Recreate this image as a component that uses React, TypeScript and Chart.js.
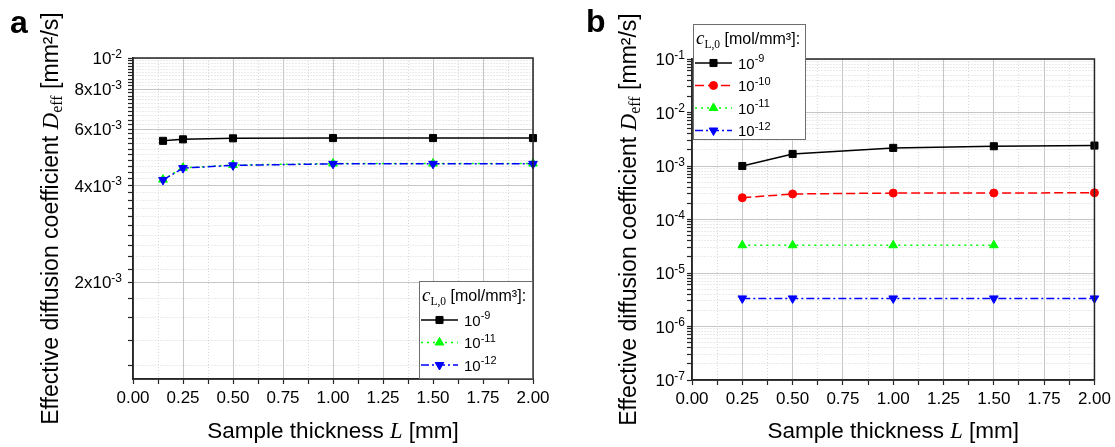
import React, { useEffect, useRef } from 'react';
import { Chart, registerables } from 'chart.js';

Chart.register(...registerables);

const SANS = '"Liberation Sans", Arial, sans-serif';
const SERIF = '"Liberation Serif", "Times New Roman", serif';

// ---------- shared x axis ----------
const xMajorTicks = [0, 0.25, 0.5, 0.75, 1.0, 1.25, 1.5, 1.75, 2.0];
const xTickLabels = ['0.00', '0.25', '0.50', '0.75', '1.00', '1.25', '1.50', '1.75', '2.00'];
const xMinorTicks = [0.125, 0.375, 0.625, 0.875, 1.125, 1.375, 1.625, 1.875];

// ---------- panel a data ----------
const thicknessA = [0.15, 0.25, 0.5, 1.0, 1.5, 2.0];
const deffA_c9 = [5.52e-3, 5.58e-3, 5.62e-3, 5.63e-3, 5.63e-3, 5.63e-3];
const deffA_c11 = [4.18e-3, 4.55e-3, 4.64e-3, 4.69e-3, 4.69e-3, 4.69e-3];
const deffA_c12 = [4.17e-3, 4.54e-3, 4.63e-3, 4.68e-3, 4.68e-3, 4.68e-3];
const yTicksA = [2e-3, 4e-3, 6e-3, 8e-3, 1e-2];
const yTickLabelsA = ['2x10^-3', '4x10^-3', '6x10^-3', '8x10^-3', '10^-2'];
const yMinorLowA = [1.1e-3, 1.32e-3, 1.55e-3, 1.78e-3];
const legendLabelsA = ['10^-9', '10^-11', '10^-12'];

// ---------- panel b data ----------
const thicknessB = [0.25, 0.5, 1.0, 1.5, 2.0];
const thicknessB11 = [0.25, 0.5, 1.0, 1.5];
const deffB_c9 = [1.0e-3, 1.68e-3, 2.18e-3, 2.34e-3, 2.41e-3];
const deffB_c10 = [2.55e-4, 3.0e-4, 3.12e-4, 3.13e-4, 3.16e-4];
const deffB_c11 = [3.3e-5, 3.3e-5, 3.3e-5, 3.3e-5];
const deffB_c12 = [3.35e-6, 3.35e-6, 3.35e-6, 3.35e-6, 3.35e-6];
const yTicksB = [1e-7, 1e-6, 1e-5, 1e-4, 1e-3, 1e-2, 1e-1];
const yTickLabelsB = ['10^-7', '10^-6', '10^-5', '10^-4', '10^-3', '10^-2', '10^-1'];
const legendLabelsB = ['10^-9', '10^-10', '10^-11', '10^-12'];

// minor tick helpers (axis decoration only)
function linearMinors(from: number, to: number, step: number, majors: number[]) {
  const out: number[] = [];
  for (let v = from; v <= to + step / 2; v += step) {
    const r = Math.round(v * 1e6) / 1e6;
    if (!majors.some((m) => Math.abs(m - r) < step / 10)) out.push(r);
  }
  return out;
}
function logMinors(majors: number[]) {
  const out: number[] = [];
  for (let i = 0; i < majors.length - 1; i++) {
    for (let k = 2; k <= 9; k++) out.push(majors[i] * k);
  }
  return out;
}
const yMinorA = [...yMinorLowA, ...linearMinors(2.2e-3, 9.8e-3, 0.2e-3, yTicksA)];
const yMinorB = logMinors(yTicksB);

const MAJOR_GRID = '#c6c6c6';
const MINOR_GRID = '#d6d6d6';
const AXIS = '#262626';

type Seg = { t: string; font: string; dy: number };

function segWidth(ctx: CanvasRenderingContext2D, segs: Seg[]) {
  let w = 0;
  for (const s of segs) {
    ctx.font = s.font;
    w += ctx.measureText(s.t).width;
  }
  return w;
}
function drawSegs(ctx: CanvasRenderingContext2D, segs: Seg[], x: number, y: number, align: string) {
  const w = segWidth(ctx, segs);
  let cx = align === 'left' ? x : align === 'center' ? x - w / 2 : x - w;
  ctx.fillStyle = '#000';
  ctx.textAlign = 'left';
  ctx.textBaseline = 'alphabetic';
  for (const s of segs) {
    ctx.font = s.font;
    ctx.fillText(s.t, cx, y + s.dy);
    cx += ctx.measureText(s.t).width;
  }
}
function supSegs(text: string, size: number, supSize: number, supDy: number): Seg[] {
  const [base, sup] = text.split('^');
  const segs: Seg[] = [{ t: base, font: `${size}px ${SANS}`, dy: 0 }];
  if (sup) segs.push({ t: sup, font: `${supSize}px ${SANS}`, dy: supDy });
  return segs;
}

const yTitleSegs: Seg[] = [
  { t: 'Effective diffusion coefficient ', font: `23px ${SANS}`, dy: 0 },
  { t: 'D', font: `italic 23px ${SERIF}`, dy: 0 },
  { t: 'eff', font: `16px ${SERIF}`, dy: 4 },
  { t: ' [mm²/s]', font: `23px ${SANS}`, dy: 0 },
];
const xTitleSegs: Seg[] = [
  { t: 'Sample thickness ', font: `22.5px ${SANS}`, dy: 0 },
  { t: 'L', font: `italic 22.5px ${SERIF}`, dy: 0 },
  { t: ' [mm]', font: `22.5px ${SANS}`, dy: 0 },
];
const legendTitleSegs: Seg[] = [
  { t: 'c', font: `italic 19px ${SERIF}`, dy: 0 },
  { t: 'L,0', font: `11.5px ${SERIF}`, dy: 4 },
  { t: ' [mol/mm³]:', font: `16px ${SANS}`, dy: 0 },
];

type Series = {
  name: string; x: number[]; y: number[]; color: string; dash: number[];
  point: string; rot: number; r: number; order: number;
};

type Panel = {
  canvasLeft: number; canvasWidth: number;
  area: { left: number; top: number; right: number; bottom: number };
  yMin: number; yMax: number; yMajor: number[]; yLabels: string[]; yMinor: number[];
  yLabelGap: number; yTitleX: number; letter: string; letterPos: [number, number];
  legendBox: [number, number, number, number]; legendLabels: string[];
  series: Series[];
};

const panelA: Panel = {
  canvasLeft: 0, canvasWidth: 557,
  area: { left: 133, top: 58, right: 533, bottom: 379 },
  yMin: 1e-3, yMax: 1e-2, yMajor: yTicksA, yLabels: yTickLabelsA, yMinor: yMinorA,
  yLabelGap: 11, yTitleX: 58, letter: 'a', letterPos: [10, 33],
  legendBox: [419, 281, 533, 379], legendLabels: legendLabelsA,
  series: [
    { name: legendLabelsA[0], x: thicknessA, y: deffA_c9, color: '#000000', dash: [], point: 'rect', rot: 0, r: 5, order: 0 },
    { name: legendLabelsA[1], x: thicknessA, y: deffA_c11, color: '#00ff00', dash: [2, 4], point: 'triangle', rot: 0, r: 5, order: 2 },
    { name: legendLabelsA[2], x: thicknessA, y: deffA_c12, color: '#0000ff', dash: [8, 3, 2, 3], point: 'triangle', rot: 180, r: 5, order: 1 },
  ],
};

const panelB: Panel = {
  canvasLeft: 557, canvasWidth: 558,
  area: { left: 692, top: 59, right: 1096, bottom: 380 },
  yMin: 1e-7, yMax: 1e-1, yMajor: yTicksB, yLabels: yTickLabelsB, yMinor: yMinorB,
  yLabelGap: 7, yTitleX: 636, letter: 'b', letterPos: [586, 32],
  legendBox: [693, 24, 806, 140], legendLabels: legendLabelsB,
  series: [
    { name: legendLabelsB[0], x: thicknessB, y: deffB_c9, color: '#000000', dash: [], point: 'rect', rot: 0, r: 5, order: 0 },
    { name: legendLabelsB[1], x: thicknessB, y: deffB_c10, color: '#ff0000', dash: [9, 4], point: 'circle', rot: 0, r: 4, order: 1 },
    { name: legendLabelsB[2], x: thicknessB11, y: deffB_c11, color: '#00ff00', dash: [2, 4], point: 'triangle', rot: 0, r: 5, order: 2 },
    { name: legendLabelsB[3], x: thicknessB, y: deffB_c12, color: '#0000ff', dash: [8, 3, 2, 3], point: 'triangle', rot: 180, r: 5, order: 3 },
  ],
};

const H = 447;

function drawMarker(ctx: CanvasRenderingContext2D, style: string, x: number, y: number, r: number, rotDeg: number, color: string) {
  ctx.save();
  ctx.fillStyle = color;
  ctx.strokeStyle = color;
  ctx.lineWidth = 1;
  ctx.setLineDash([]);
  ctx.beginPath();
  if (style === 'rect') {
    const s = r * Math.SQRT1_2;
    ctx.rect(x - s, y - s, 2 * s, 2 * s);
  } else if (style === 'circle') {
    ctx.arc(x, y, r, 0, Math.PI * 2);
  } else {
    let rad = (rotDeg * Math.PI) / 180;
    ctx.moveTo(x + Math.sin(rad) * r, y - Math.cos(rad) * r);
    rad += (2 * Math.PI) / 3;
    ctx.lineTo(x + Math.sin(rad) * r, y - Math.cos(rad) * r);
    rad += (2 * Math.PI) / 3;
    ctx.lineTo(x + Math.sin(rad) * r, y - Math.cos(rad) * r);
    ctx.closePath();
  }
  ctx.fill();
  ctx.stroke();
  ctx.restore();
}

function makePlugin(p: Panel) {
  const off = p.canvasLeft;
  return {
    id: 'panelDecor' + p.letter,
    afterDraw(chart: any) {
      const ctx: CanvasRenderingContext2D = chart.ctx;
      const ca = chart.chartArea;
      const yScale = chart.scales.y;
      ctx.save();
      // frame
      ctx.strokeStyle = AXIS;
      ctx.lineWidth = 1.5;
      ctx.setLineDash([]);
      ctx.strokeRect(ca.left, ca.top, ca.right - ca.left, ca.bottom - ca.top);

      // y tick labels with superscripts
      p.yMajor.forEach((v, i) => {
        const py = yScale.getPixelForValue(v);
        drawSegs(ctx, supSegs(p.yLabels[i], 17, 12, -6.5), ca.left - p.yLabelGap, py + 6, 'right');
      });

      // x title
      drawSegs(ctx, xTitleSegs, (ca.left + ca.right) / 2, 438, 'center');

      // y title (rotated)
      ctx.save();
      ctx.translate(p.yTitleX - off, (ca.top + ca.bottom) / 2);
      ctx.rotate(-Math.PI / 2);
      drawSegs(ctx, yTitleSegs, 0, 0, 'center');
      ctx.restore();

      // panel letter
      ctx.fillStyle = '#000';
      ctx.font = `bold 32px ${SANS}`;
      ctx.textAlign = 'left';
      ctx.textBaseline = 'alphabetic';
      ctx.fillText(p.letter, p.letterPos[0] - off, p.letterPos[1]);

      // legend
      const [l0, t0, r0, b0] = p.legendBox;
      const lx = l0 - off;
      const rx = r0 - off;
      ctx.fillStyle = '#ffffff';
      ctx.fillRect(lx, t0, rx - lx, b0 - t0);
      ctx.strokeStyle = '#6e6e6e';
      ctx.lineWidth = 1;
      ctx.strokeRect(lx + 0.5, t0 + 0.5, rx - lx - 1, b0 - t0 - 1);
      drawSegs(ctx, legendTitleSegs, lx + 3, t0 + 20, 'left');
      p.series.forEach((s, i) => {
        const ry = t0 + 39 + i * 22.5;
        ctx.save();
        ctx.strokeStyle = s.color;
        ctx.lineWidth = 1.5;
        ctx.setLineDash(s.dash);
        ctx.beginPath();
        ctx.moveTo(lx + 2, ry);
        ctx.lineTo(lx + 39, ry);
        ctx.stroke();
        ctx.restore();
        drawMarker(ctx, s.point, lx + 20.5, ry, s.r, s.rot, s.color);
        drawSegs(ctx, supSegs(p.legendLabels[i], 15, 11, -6.5), lx + 45, ry + 5.5, 'left');
      });
      ctx.restore();
    },
  };
}

function buildConfig(p: Panel): any {
  const a = p.area;
  const datasets = p.series.map((s) => ({
    label: s.name,
    data: s.x.map((x, i) => ({ x, y: s.y[i] })),
    borderColor: s.color,
    backgroundColor: s.color,
    borderWidth: 1.5,
    borderDash: s.dash,
    pointStyle: s.point,
    pointRotation: s.rot,
    pointRadius: s.r,
    pointBorderWidth: 1,
    pointBackgroundColor: s.color,
    pointBorderColor: s.color,
    tension: 0,
    fill: false,
    order: s.order,
    clip: false,
  }));
  const gridColor = (c: any) => (c.tick && c.tick.major ? MAJOR_GRID : MINOR_GRID);
  const gridDash = (c: any) => (c.tick && !c.tick.major ? [1, 2] : []);
  const xAll = [...xMajorTicks.map((v) => ({ value: v, major: true })), ...xMinorTicks.map((v) => ({ value: v, major: false }))].sort((m, n) => m.value - n.value);
  const yAll = [...p.yMajor.map((v) => ({ value: v, major: true })), ...p.yMinor.map((v) => ({ value: v, major: false }))].sort((m, n) => m.value - n.value);
  return {
    type: 'line',
    data: { datasets },
    options: {
      animation: false,
      responsive: false,
      maintainAspectRatio: false,
      devicePixelRatio: 1,
      layout: { padding: { left: 0, top: a.top, right: p.canvasLeft + p.canvasWidth - a.right, bottom: 0 } },
      plugins: { legend: { display: false }, tooltip: { enabled: false }, title: { display: false } },
      scales: {
        x: {
          type: 'linear',
          min: 0,
          max: 2,
          afterBuildTicks: (s: any) => { s.ticks = xAll.map((t) => ({ ...t })); },
          afterFit: (s: any) => { s.height = H - a.bottom; },
          ticks: {
            autoSkip: false,
            maxRotation: 0,
            minRotation: 0,
            padding: 4,
            color: '#000',
            font: { family: SANS, size: 17 },
            callback: (v: number) => {
              const i = xMajorTicks.findIndex((t) => Math.abs(t - v) < 1e-9);
              return i >= 0 ? xTickLabels[i] : '';
            },
          },
          grid: { color: gridColor, lineWidth: 1, tickLength: 5, tickColor: AXIS, tickWidth: 1.2 },
          border: { display: true, color: AXIS, width: 1.5, dash: gridDash },
        },
        y: {
          type: 'logarithmic',
          min: p.yMin,
          max: p.yMax,
          afterBuildTicks: (s: any) => { s.ticks = yAll.map((t) => ({ ...t })); },
          afterFit: (s: any) => { s.width = a.left - p.canvasLeft; },
          ticks: { display: false },
          grid: { color: gridColor, lineWidth: 1, tickLength: 5, tickColor: AXIS, tickWidth: 1.2 },
          border: { display: true, color: AXIS, width: 1.5, dash: gridDash },
        },
      },
    },
    plugins: [makePlugin(p)],
  };
}

export default function App() {
  const refA = useRef<HTMLCanvasElement | null>(null);
  const refB = useRef<HTMLCanvasElement | null>(null);
  useEffect(() => {
    const charts: Chart[] = [];
    if (refA.current) charts.push(new Chart(refA.current, buildConfig(panelA)));
    if (refB.current) charts.push(new Chart(refB.current, buildConfig(panelB)));
    return () => charts.forEach((c) => c.destroy());
  }, []);
  return (
    <div style={{ position: 'absolute', left: 0, top: 0, width: 1115, height: H, background: '#fff', overflow: 'hidden' }}>
      <canvas ref={refA} width={panelA.canvasWidth} height={H}
        style={{ position: 'absolute', left: panelA.canvasLeft, top: 0, width: panelA.canvasWidth, height: H }} />
      <canvas ref={refB} width={panelB.canvasWidth} height={H}
        style={{ position: 'absolute', left: panelB.canvasLeft, top: 0, width: panelB.canvasWidth, height: H }} />
    </div>
  );
}
